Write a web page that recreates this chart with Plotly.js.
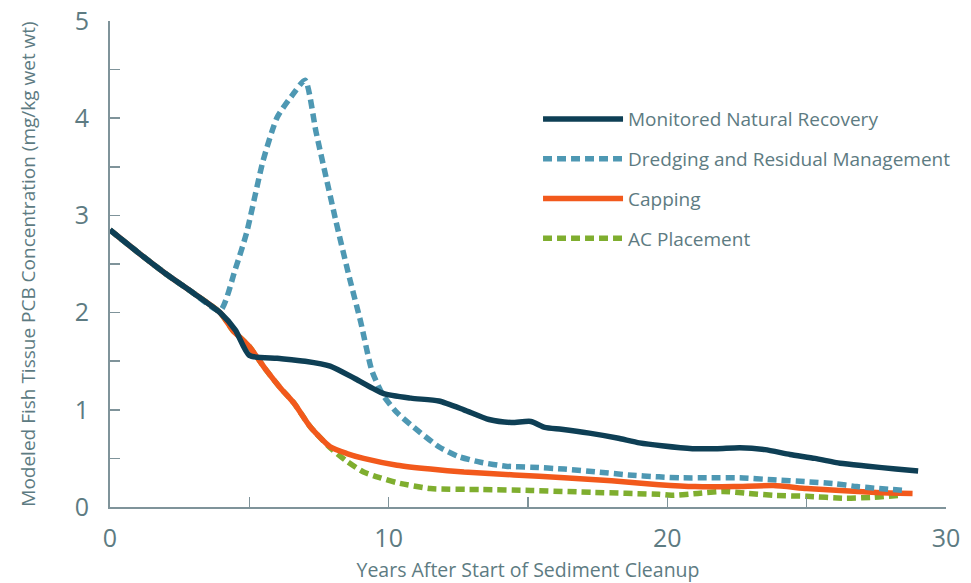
<!DOCTYPE html>
<html>
<head>
<meta charset="utf-8">
<script src="https://cdn.plot.ly/plotly-3.0.1.min.js"></script>
<style>html,body{margin:0;padding:0;background:#fff;}#chart{width:971px;height:583px;}</style>
</head>
<body>
<div id="chart"></div>
<script>
// Years after start of cleanup and modeled fish tissue PCB concentration (mg/kg wet wt)
const mnrX = [0, 1, 2, 3, 3.95, 4.5, 5.0, 6.0, 7.0, 7.9, 8.8, 9.8, 10.8, 11.8, 12.7, 13.6, 14.4, 15.1, 15.6, 16.2, 17.2, 18.2, 19.0, 19.8, 20.9, 21.8, 22.6, 23.5, 24.4, 25.3, 26.2, 27.2, 28.2, 29.0];
const mnrY = [2.85, 2.62, 2.40, 2.20, 2.00, 1.82, 1.56, 1.53, 1.50, 1.45, 1.32, 1.17, 1.12, 1.09, 1.00, 0.90, 0.87, 0.88, 0.82, 0.80, 0.76, 0.71, 0.66, 0.63, 0.60, 0.60, 0.61, 0.59, 0.54, 0.50, 0.45, 0.42, 0.39, 0.37];

const dredgeX = [0, 1, 2, 3, 3.95, 4.5, 4.9, 5.5, 6.0, 6.5, 7.0, 7.4, 8.1, 8.6, 9.0, 9.4, 9.8, 10.3, 10.9, 11.8, 12.5, 13.3, 14.2, 15.1, 16.3, 17.5, 18.6, 19.7, 20.5, 21.5, 22.6, 23.8, 25.0, 26.0, 26.8, 27.6, 28.5];
const dredgeY = [2.85, 2.62, 2.40, 2.20, 2.02, 2.45, 2.82, 3.57, 4.01, 4.22, 4.39, 3.85, 2.95, 2.35, 1.90, 1.40, 1.15, 0.97, 0.82, 0.62, 0.52, 0.46, 0.42, 0.41, 0.39, 0.36, 0.33, 0.31, 0.30, 0.30, 0.30, 0.28, 0.26, 0.24, 0.21, 0.19, 0.17];

const capX = [0, 1, 2, 3, 3.95, 4.4, 5.0, 5.6, 6.1, 6.6, 7.2, 7.9, 8.5, 9.1, 10.3, 11.5, 12.7, 14.5, 16.3, 18.0, 19.7, 21.0, 22.4, 23.8, 25.0, 26.2, 27.5, 28.8];
const capY = [2.85, 2.62, 2.40, 2.20, 2.00, 1.82, 1.65, 1.41, 1.23, 1.07, 0.82, 0.62, 0.55, 0.50, 0.43, 0.39, 0.36, 0.33, 0.30, 0.27, 0.23, 0.21, 0.21, 0.22, 0.19, 0.17, 0.15, 0.14];

const acX = [0, 1, 2, 3, 3.95, 4.4, 5.0, 5.6, 6.1, 6.6, 7.2, 7.9, 8.5, 9.1, 9.7, 10.3, 11.5, 13.3, 15.1, 17.4, 19.7, 20.2, 21.1, 22.0, 22.9, 23.8, 25.0, 26.4, 27.4, 28.3];
const acY = [2.85, 2.62, 2.40, 2.20, 2.00, 1.82, 1.65, 1.41, 1.23, 1.07, 0.82, 0.61, 0.47, 0.36, 0.30, 0.25, 0.19, 0.18, 0.17, 0.15, 0.13, 0.12, 0.14, 0.16, 0.14, 0.12, 0.11, 0.09, 0.10, 0.12];

const seriesNames = ["Monitored Natural Recovery", "Dredging and Residual Management", "Capping", "AC Placement"];
const yTickVals = [0, 0.5, 1, 1.5, 2, 2.5, 3, 3.5, 4, 4.5, 5];
const yTickText = ["0", "", "1", "", "2", "", "3", "", "4", "", "5"];
const xTickVals = [0, 5, 10, 15, 20, 25, 30];
const xTickText = ["0", "", "10", "", "20", "", "30"];

const textColor = "#5d7b82";
const axisColor = "#7f939a";
const fontFam = "'Open Sans', 'Noto Sans', sans-serif";

// drawn back to front: AC, Capping, Dredging, MNR (legend order kept by legendrank)
const traces = [
  {x: acX, y: acY, name: seriesNames[3], legendgroup: "d", legendrank: 4, mode: "lines",
   line: {color: "#7fae2f", width: 5.5, dash: "9px,5px", shape: "spline", smoothing: 0.6}},
  {x: capX, y: capY, name: seriesNames[2], legendgroup: "c", legendrank: 3, mode: "lines",
   line: {color: "#f2591c", width: 5.5, shape: "spline", smoothing: 0.6}},
  {x: dredgeX, y: dredgeY, name: seriesNames[1], legendgroup: "b", legendrank: 2, mode: "lines",
   line: {color: "#4e98b3", width: 5.5, dash: "9px,5px", shape: "spline", smoothing: 0.6}},
  {x: mnrX, y: mnrY, name: seriesNames[0], legendgroup: "a", legendrank: 1, mode: "lines",
   line: {color: "#0e3f55", width: 5.5, shape: "spline", smoothing: 0.6}}
];

const layout = {
  width: 971, height: 583,
  margin: {l: 110, r: 25, t: 21, b: 76},
  paper_bgcolor: "#ffffff", plot_bgcolor: "#ffffff",
  font: {family: fontFam, color: textColor},
  showlegend: true,
  legend: {
    x: 0.512, y: 0.837, xanchor: "left", yanchor: "top",
    traceorder: "grouped",
    font: {family: fontFam, size: 19, color: textColor},
    itemwidth: 80, tracegroupgap: 12, bgcolor: "rgba(0,0,0,0)"
  },
  xaxis: {
    range: [0, 30], tickvals: xTickVals, ticktext: xTickText,
    ticks: "inside", ticklen: 10, tickwidth: 1.5, tickcolor: axisColor,
    showline: true, linecolor: axisColor, linewidth: 2, showgrid: false, zeroline: false,
    tickfont: {size: 25, color: textColor}, ticklabelstandoff: 8,
    title: {text: "Years After Start of Sediment Cleanup", font: {size: 19.5, color: textColor}, standoff: 10}
  },
  yaxis: {
    range: [0, 5], tickvals: yTickVals, ticktext: yTickText,
    ticks: "inside", ticklen: 10, tickwidth: 1.5, tickcolor: axisColor,
    showline: true, linecolor: axisColor, linewidth: 2, showgrid: false, zeroline: false,
    tickfont: {size: 25, color: textColor}, ticklabelstandoff: 14,
    title: {text: "Modeled Fish Tissue PCB Concentration (mg/kg wet wt)", font: {size: 19, color: textColor}, standoff: 34}
  }
};

Plotly.newPlot("chart", traces, layout, {displayModeBar: false, staticPlot: true});
</script>
</body>
</html>
